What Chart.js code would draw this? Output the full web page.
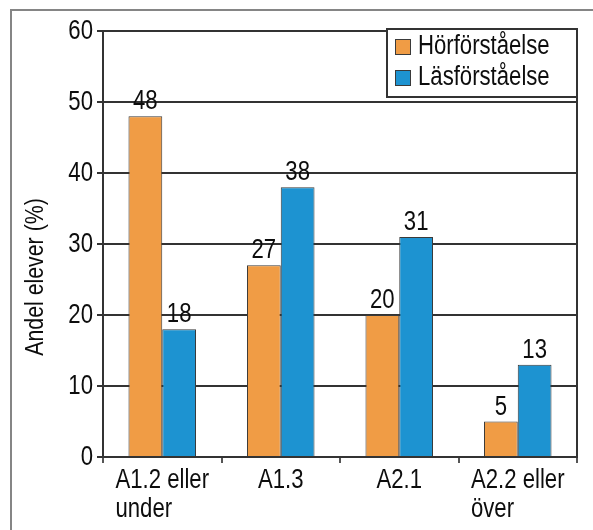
<!doctype html>
<html>
<head>
    <meta charset="UTF-8">
    <script src="https://cdn.jsdelivr.net/npm/chart.js"></script>
    <style>
        body { margin: 0; background: #fff; }
    </style>
</head>
<body>
<canvas id="level_graph" width="593" height="530"></canvas>

<script>
    // Data
    const categories = [['A1.2 eller', 'under'], ['A1.3'], ['A2.1'], ['A2.2 eller', 'över']];
    const seriesNames = ['Hörförståelse', 'Läsförståelse'];
    const listening = [48, 27, 20, 5];
    const reading = [18, 38, 31, 13];
    const yTicks = [0, 10, 20, 30, 40, 50, 60];
    const yTitle = 'Andel elever (%)';

    const FONT = '"Liberation Sans", Arial, sans-serif';
    const NARROW = 0.82;   // squeeze Liberation Sans to an Arial Narrow look
    const INK = '#0d0d0d';
    const LINE = '#333';

    function narrowWidth(ctx, text) {
        return ctx.measureText(text).width * NARROW;
    }

    function narrowText(ctx, text, x, y, align) {
        ctx.save();
        ctx.translate(x, y);
        ctx.scale(NARROW, 1);
        ctx.textAlign = align;
        ctx.fillText(text, 0, 0);
        ctx.restore();
    }

    // frame around the whole figure (top and left only)
    const framePlugin = {
        id: 'frame',
        beforeDraw(chart) {
            const ctx = chart.ctx;
            ctx.save();
            ctx.strokeStyle = '#858585';
            ctx.lineWidth = 2;
            ctx.beginPath();
            ctx.moveTo(11, 530);
            ctx.lineTo(11, 10);
            ctx.lineTo(593, 10);
            ctx.stroke();
            ctx.restore();
        }
    };

    // right edge of the plot, all text and the legend
    const decorPlugin = {
        id: 'decor',
        afterDatasetsDraw(chart) {
            const ctx = chart.ctx;
            ctx.save();
            ctx.font = '27px ' + FONT;
            ctx.fillStyle = INK;
            ctx.textBaseline = 'alphabetic';
            chart.data.datasets.forEach((ds, di) => {
                chart.getDatasetMeta(di).data.forEach((bar, i) => {
                    narrowText(ctx, String(ds.data[i]), bar.x, bar.y - 7, 'center');
                });
            });
            ctx.restore();
        },
        afterDraw(chart) {
            const ctx = chart.ctx;
            const area = chart.chartArea;
            const xs = chart.scales.x;
            const ys = chart.scales.y;
            ctx.save();

            ctx.strokeStyle = LINE;
            ctx.lineWidth = 2;
            ctx.beginPath();
            ctx.moveTo(area.right, area.top - 1);
            ctx.lineTo(area.right, area.bottom + 1);
            ctx.stroke();

            // y tick labels
            ctx.font = '27px ' + FONT;
            ctx.fillStyle = INK;
            ctx.textBaseline = 'middle';
            yTicks.forEach(v => {
                narrowText(ctx, String(v), area.left - 10, ys.getPixelForValue(v) + 1, 'right');
            });

            // category labels: lines left-aligned, block centred under the group
            ctx.textBaseline = 'alphabetic';
            categories.forEach((lines, i) => {
                const cx = xs.getPixelForValue(i);
                const w = Math.max(...lines.map(l => narrowWidth(ctx, l)));
                lines.forEach((l, k) => {
                    narrowText(ctx, l, cx - w / 2, area.bottom + 31 + k * 29, 'left');
                });
            });

            // y axis title
            ctx.save();
            ctx.translate(36, 277);
            ctx.rotate(-Math.PI / 2);
            ctx.scale(NARROW, 1);
            ctx.font = '26px ' + FONT;
            ctx.textAlign = 'center';
            ctx.textBaseline = 'middle';
            ctx.fillText(yTitle, 0, 0);
            ctx.restore();

            // legend box
            const bw = 190, bh = 68;
            const bx = area.right - bw, by = area.top - 2;
            ctx.fillStyle = '#fff';
            ctx.fillRect(bx, by, bw, bh);
            ctx.strokeStyle = LINE;
            ctx.lineWidth = 2;
            ctx.strokeRect(bx, by, bw, bh);
            ctx.font = '27px ' + FONT;
            ctx.textBaseline = 'middle';
            chart.data.datasets.forEach((ds, di) => {
                const sy = by + 10 + di * 31;
                ctx.fillStyle = ds.backgroundColor;
                ctx.fillRect(bx + 8, sy, 15, 15);
                ctx.strokeStyle = '#3a3a3a';
                ctx.lineWidth = 1;
                ctx.strokeRect(bx + 8.5, sy + 0.5, 15, 15);
                ctx.fillStyle = INK;
                narrowText(ctx, ds.label, bx + 31, sy + 8, 'left');
            });
            ctx.restore();
        }
    };

    new Chart(document.getElementById('level_graph'), {
        type: 'bar',
        data: {
            labels: categories,
            datasets: [
                {
                    label: seriesNames[0],
                    data: listening,
                    backgroundColor: '#F09C45',
                    borderColor: '#3a3a3a',
                    borderWidth: 1
                },
                {
                    label: seriesNames[1],
                    data: reading,
                    backgroundColor: '#1D93D1',
                    borderColor: '#3a3a3a',
                    borderWidth: 1
                }
            ]
        },
        options: {
            responsive: false,
            animation: false,
            layout: { padding: { top: 31, right: 16, left: 0, bottom: 0 } },
            categoryPercentage: 0.57,
            barPercentage: 1,
            plugins: {
                legend: { display: false },
                tooltip: { enabled: false }
            },
            scales: {
                x: {
                    afterFit(scale) { scale.height = 73; },
                    ticks: { display: false },
                    grid: {
                        drawOnChartArea: false,
                        drawTicks: true,
                        tickLength: 6,
                        color: '#555',
                        lineWidth: 2,
                        offset: true
                    },
                    border: { color: LINE, width: 2 }
                },
                y: {
                    min: yTicks[0],
                    max: yTicks[yTicks.length - 1],
                    afterFit(scale) { scale.width = 103; },
                    ticks: { stepSize: 10, display: false },
                    grid: { color: LINE, lineWidth: 2, tickLength: 6 },
                    border: { color: LINE, width: 2 }
                }
            }
        },
        plugins: [framePlugin, decorPlugin]
    });
</script>
</body>
</html>
